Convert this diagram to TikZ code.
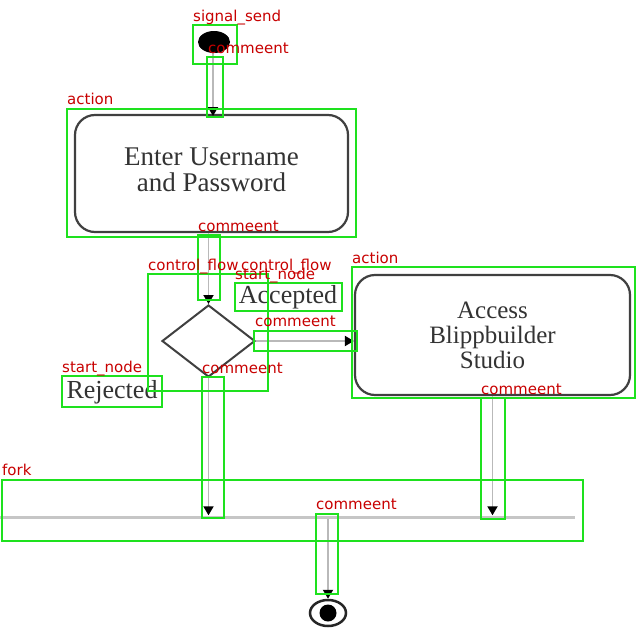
\documentclass[tikz,border=0pt]{standalone}
\usepackage{fontspec}
\setmainfont{Liberation Serif}
\newfontfamily\labfont{DejaVu Sans}
\usetikzlibrary{shapes.geometric,arrows.meta,calc}
\definecolor{detgreen}{RGB}{30,225,30}
\definecolor{detred}{RGB}{200,0,0}
\begin{document}
\begin{tikzpicture}[x=1pt,y=-1pt,
  act/.style={draw=black!75,line width=2.2pt,rounded corners=20pt,inner sep=0pt,align=center,
    font=\fontsize{25}{26}\selectfont,text=black!80},
  dtext/.style={inner sep=0pt,font=\fontsize{26}{27}\selectfont,text=black!80},
  dec/.style={draw=black!75,line width=2pt,shape=diamond,inner sep=0pt,minimum width=93pt,minimum height=72pt},
  flow/.style={draw=gray!55,line width=1.8pt,-{Triangle[length=9pt,width=10pt,black]}},
  gbox/.style={draw=detgreen,line width=2.5pt},
  lbl/.style={anchor=base west,inner sep=0pt,text=detred,font=\labfont\fontsize{15}{15}\selectfont},
  ]
\useasboundingbox (0,0) rectangle (640,640);
\fill[white] (0,0) rectangle (640,640);
% diagram
\node[shape=ellipse,fill=black,inner sep=0pt,minimum width=32pt,minimum height=22pt] (start) at (214,42) {};
\node[act,minimum width=273pt,minimum height=117pt,font=\fontsize{27}{27}\selectfont] (a1) at (211.5,173.5) {\raisebox{4pt}{\begin{tabular}{@{}c@{}}Enter Username\\[-1pt]and Password\end{tabular}}};
\node[dec] (d) at (208.5,341) {};
\node[dtext] (acc) at (288,297) {Accepted};
\node[act,minimum width=275pt,minimum height=120pt,font=\fontsize{25}{25}\selectfont] (a2) at (492.5,335) {Access\\Blippbuilder\\Studio};
\node[dtext] (rej) at (112,392) {Rejected};
\node[fill=gray!45,inner sep=0pt,minimum width=575pt,minimum height=3pt] (fork) at (287.5,517) {};
\node[shape=ellipse,draw=black!85,line width=2.5pt,minimum width=36pt,minimum height=26pt,inner sep=0pt] (end) at (328,613) {};
\node[shape=circle,fill=black,minimum size=17pt,inner sep=0pt] (endin) at (328,613) {};
% connectors
\draw[flow] (start.south -| 213,0) -- (213,116);
\draw[flow] (d.north |- a1.south) -- (d.north);
\draw[flow] (d.east) -- (d.east -| a2.west);
\draw[flow] (d.south) -- (d.south |- fork.north);
\draw[flow] (a2.south) -- (a2.south |- fork.north);
\draw[flow] (end.north |- fork.south) -- (end.north);
% annotation boxes
\draw[gbox] (193,25) rectangle (237,64);
\draw[gbox] (207,57) rectangle (223,117);
\draw[gbox] (67,109) rectangle (356,237);
\draw[gbox] (198,235) rectangle (220,300);
\draw[gbox] (148,274) rectangle (268,391);
\draw[gbox] (235,283) rectangle (342,311);
\draw[gbox] (254,331) rectangle (357,351);
\draw[gbox] (352,267) rectangle (635,398);
\draw[gbox] (62,376) rectangle (162,407);
\draw[gbox] (202,377) rectangle (224,518);
\draw[gbox] (481,398) rectangle (505,519);
\draw[gbox] (2,480) rectangle (583,541);
\draw[gbox] (316,514) rectangle (338,594);
% annotation labels
\node[lbl] (l1) at (193,21) {signal\_send};
\node[lbl] (l2) at (208,53) {commeent};
\node[lbl] (l3) at (67,104) {action};
\node[lbl] (l4) at (198,231) {commeent};
\node[lbl] (l5) at (148,270) {control\_flow};
\node[lbl] (l6) at (241,270) {control\_flow};
\node[lbl] (l7) at (235,279) {start\_node};
\node[lbl] (l8) at (255,326) {commeent};
\node[lbl] (l9) at (352,263) {action};
\node[lbl] (l10) at (62,372) {start\_node};
\node[lbl] (l11) at (202,373) {commeent};
\node[lbl] (l12) at (481,394) {commeent};
\node[lbl] (l13) at (2,475) {fork};
\node[lbl] (l14) at (316,509) {commeent};
\end{tikzpicture}
\end{document}
